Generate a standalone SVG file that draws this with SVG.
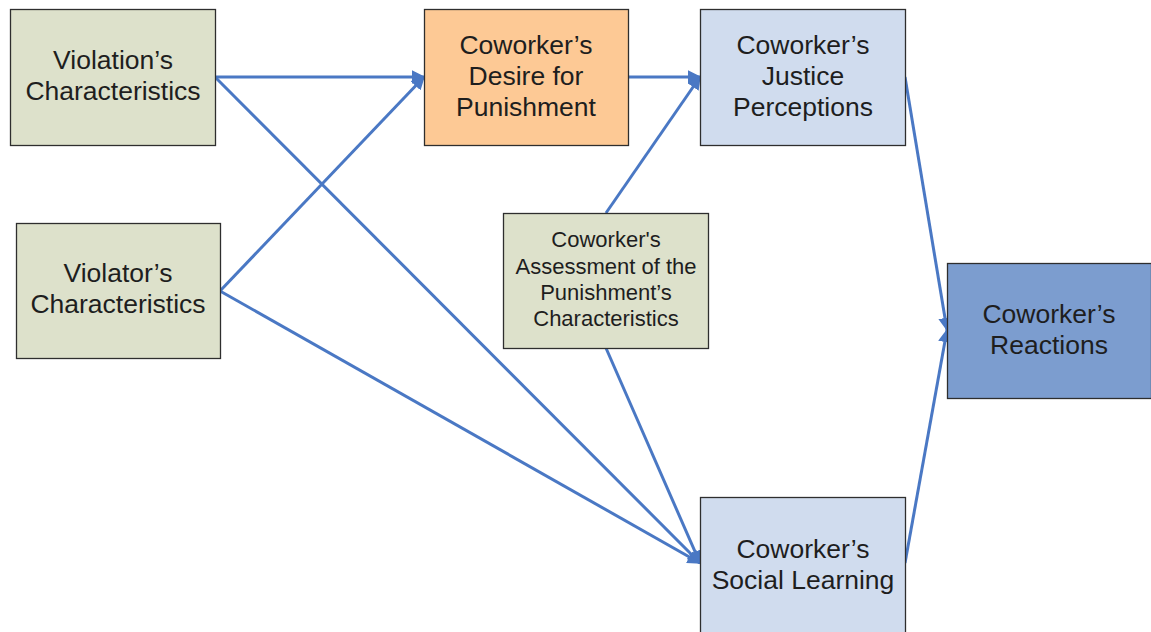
<svg xmlns="http://www.w3.org/2000/svg" width="1151" height="632" viewBox="0 0 1151 632">
<defs>
<marker id="ah" viewBox="0 0 10 10" refX="9" refY="5" markerWidth="4.5" markerHeight="4.5" orient="auto" markerUnits="strokeWidth">
<path d="M0,0 L10,5 L0,10 z" fill="#4a78c4"/>
</marker>
</defs>
<style>
.box{stroke:#2e2e2e;stroke-width:1.3}
.g{fill:#dde1cb}.o{fill:#fdc995}.lb{fill:#d0dcee}.db{fill:#7c9dcf}
text{font-family:"Liberation Sans",Arial,sans-serif;fill:#1e1e1e;text-anchor:middle}
.t{font-size:26.5px}.s{font-size:22px}
.c{stroke:#4a78c4;stroke-width:3;fill:none;marker-end:url(#ah)}
</style>
<rect width="1151" height="632" fill="#ffffff"/>
<g id="connectors">
<line class="c" x1="215" y1="77" x2="424" y2="77"/>
<line class="c" x1="215" y1="77" x2="700" y2="563"/>
<line class="c" x1="220" y1="291" x2="424" y2="77"/>
<line class="c" x1="220" y1="291" x2="700" y2="563"/>
<line class="c" x1="628" y1="77" x2="700" y2="77"/>
<line class="c" x1="606" y1="213" x2="700" y2="77"/>
<line class="c" x1="606" y1="348" x2="700" y2="563"/>
<line class="c" x1="905" y1="77" x2="947" y2="330"/>
<line class="c" x1="905" y1="563" x2="947" y2="330"/>
</g>
<g id="violation">
<rect class="box g" x="10.5" y="9.5" width="205" height="136"/>
<text class="t" x="113" y="69">Violation’s</text>
<text class="t" x="113" y="100">Characteristics</text>
</g>
<g id="violator">
<rect class="box g" x="16.5" y="223.5" width="204" height="135"/>
<text class="t" x="118" y="282">Violator’s</text>
<text class="t" x="118" y="313">Characteristics</text>
</g>
<g id="desire">
<rect class="box o" x="424.5" y="9.5" width="204" height="136"/>
<text class="t" x="526" y="54">Coworker’s</text>
<text class="t" x="526" y="85">Desire for</text>
<text class="t" x="526" y="116">Punishment</text>
</g>
<g id="justice">
<rect class="box lb" x="700.5" y="9.5" width="205" height="136"/>
<text class="t" x="803" y="54">Coworker’s</text>
<text class="t" x="803" y="85">Justice</text>
<text class="t" x="803" y="116">Perceptions</text>
</g>
<g id="assessment">
<rect class="box g" x="503.5" y="213.5" width="205" height="135"/>
<text class="s" x="606" y="247">Coworker's</text>
<text class="s" x="606" y="274">Assessment of the</text>
<text class="s" x="606" y="300">Punishment’s</text>
<text class="s" x="606" y="326">Characteristics</text>
</g>
<g id="reactions">
<rect class="box db" x="947.5" y="263.5" width="204" height="135"/>
<text class="t" x="1049" y="323">Coworker’s</text>
<text class="t" x="1049" y="354">Reactions</text>
</g>
<g id="social">
<rect class="box lb" x="700.5" y="497.5" width="205" height="140"/>
<text class="t" x="803" y="558">Coworker’s</text>
<text class="t" x="803" y="589">Social Learning</text>
</g>
</svg>
